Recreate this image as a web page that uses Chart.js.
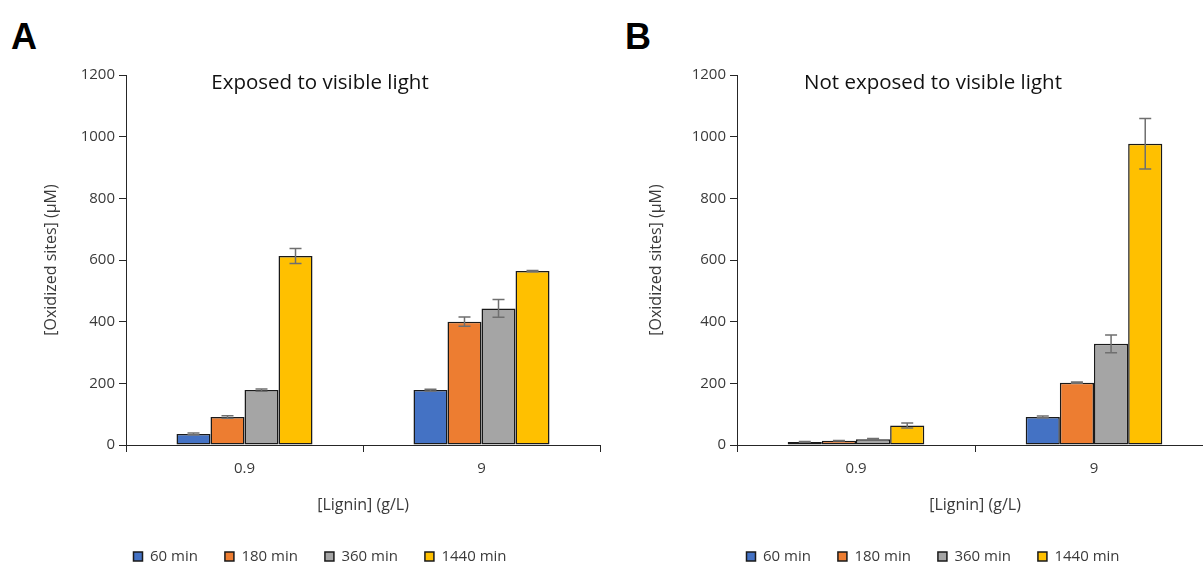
<!DOCTYPE html>
<html>
<head>
<meta charset="utf-8">
<script src="https://cdn.jsdelivr.net/npm/chart.js@4"></script>
<style>
  body { margin: 0; width: 1203px; height: 564px; overflow: hidden; background: #fff; position: relative; }
  .panel { position: absolute; top: 0; width: 640px; height: 574px; }
  .tag { position: absolute; font: bold 36px 'Liberation Sans', Arial, sans-serif; line-height: 36px; color: #000; }
</style>
</head>
<body>
<div class="tag" style="left:11px;top:19px">A</div>
<div class="tag" style="left:625px;top:19px">B</div>
<div class="panel" style="left:0"><canvas id="chartA"></canvas></div>
<div class="panel" style="left:610px"><canvas id="chartB"></canvas></div>
<script>
var lignin = ["0.9", "9"];
var times = ["60 min", "180 min", "360 min", "1440 min"];
var colors = ["#4472C4", "#ED7D31", "#A5A5A5", "#FFC000"];
var yTicks = [0, 200, 400, 600, 800, 1000, 1200];

// exposed to visible light, values per lignin level [0.9, 9]
var lit60 = [36, 178];
var lit180 = [91, 400];
var lit360 = [178, 443];
var lit1440 = [613, 564];
var litErr60 = [3, 3];
var litErr180 = [4, 15];
var litErr360 = [4, 29];
var litErr1440 = [24, 2];

// kept in the dark
var dark60 = [10, 91];
var dark180 = [14, 202];
var dark360 = [19, 328];
var dark1440 = [63, 977];
var darkErr60 = [1, 3];
var darkErr180 = [1, 2];
var darkErr360 = [2, 29];
var darkErr1440 = [8, 82];

Chart.defaults.font.family = "'Open Sans', sans-serif";

var axisColor = '#262626';
var textColor = '#3a3a3a';

// whiskers drawn on top of each bar
var errorBars = {
  id: 'errorBars',
  afterDatasetsDraw: function (chart) {
    var ctx = chart.ctx;
    var y = chart.scales.y;
    chart.data.datasets.forEach(function (ds, i) {
      var meta = chart.getDatasetMeta(i);
      meta.data.forEach(function (bar, j) {
        var v = ds.data[j], e = ds.errors[j];
        var top = y.getPixelForValue(v + e);
        var bot = y.getPixelForValue(v - e);
        ctx.save();
        ctx.strokeStyle = '#6f6f6f';
        ctx.lineWidth = 1.5;
        ctx.beginPath();
        ctx.moveTo(bar.x, top); ctx.lineTo(bar.x, bot);
        ctx.moveTo(bar.x - 6, top); ctx.lineTo(bar.x + 6, top);
        ctx.moveTo(bar.x - 6, bot); ctx.lineTo(bar.x + 6, bot);
        ctx.stroke();
        ctx.restore();
      });
    });
  }
};

function makePanel(id, title, series, errs, pad) {
  var datasets = series.map(function (vals, i) {
    return {
      label: times[i],
      data: vals,
      errors: errs[i],
      backgroundColor: colors[i],
      borderColor: '#1a1a1a',
      borderWidth: 1.5,
      borderSkipped: false,
      categoryPercentage: 0.574,
      barPercentage: 1
    };
  });

  return new Chart(document.getElementById(id), {
    type: 'bar',
    data: { labels: lignin, datasets: datasets },
    plugins: [errorBars],
    options: {
      responsive: true,
      maintainAspectRatio: false,
      animation: false,
      layout: { padding: { left: pad.left, right: pad.right, top: 0, bottom: 0 } },
      plugins: {
        tooltip: { enabled: false },
        title: {
          display: true,
          text: title,
          color: '#111',
          font: { size: 20.5, weight: 'normal' },
          padding: { top: 70.7, bottom: -20.3 }
        },
        legend: {
          position: 'bottom',
          labels: {
            boxWidth: 9,
            boxHeight: 9,
            padding: 27,
            color: textColor,
            font: { size: 15 }
          }
        }
      },
      scales: {
        x: {
          afterFit: function (s) { s.height = 77; },
          grid: { drawOnChartArea: false, tickLength: 7, color: axisColor },
          border: { color: axisColor, width: 1 },
          ticks: { color: textColor, font: { size: 15 }, padding: 8 },
          title: {
            display: true,
            text: '[Lignin] (g/L)',
            color: textColor,
            font: { size: 16 },
            padding: { top: 0, bottom: 7 }
          }
        },
        y: {
          min: 0,
          max: 1200,
          afterFit: function (s) { s.width = pad.axis - pad.left; },
          afterBuildTicks: function (s) {
            s.ticks = yTicks.map(function (v) { return { value: v }; });
          },
          grid: { drawOnChartArea: false, tickLength: 7, color: axisColor },
          border: { color: axisColor, width: 1 },
          ticks: {
            color: textColor,
            font: { size: 15 },
            padding: 4,
            callback: function (v) { return String(v); }
          },
          title: {
            display: true,
            text: '[Oxidized sites] (µM)',
            color: textColor,
            font: { size: 16 },
            padding: { top: pad.titleOffset, bottom: 0 }
          }
        }
      }
    }
  });
}

makePanel('chartA', 'Exposed to visible light',
  [lit60, lit180, lit360, lit1440],
  [litErr60, litErr180, litErr360, litErr1440],
  { left: 40, right: 40, axis: 126, titleOffset: 2 });

makePanel('chartB', 'Not exposed to visible light',
  [dark60, dark180, dark360, dark1440],
  [darkErr60, darkErr180, darkErr360, darkErr1440],
  { left: 43, right: 37, axis: 127, titleOffset: -6 });
</script>
</body>
</html>
